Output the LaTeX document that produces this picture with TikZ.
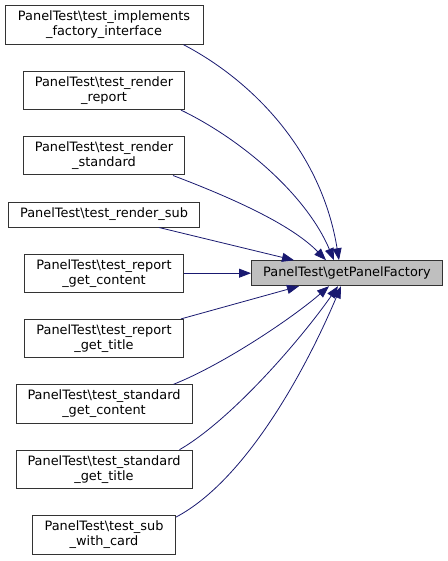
\documentclass[tikz,border=0pt]{standalone}
\usepackage{fontspec}
\setmainfont{DejaVu Sans}
\usepackage{xcolor}
\usepackage{tikz}
\usetikzlibrary{arrows.meta,positioning}
\definecolor{navyline}{HTML}{191970}
\definecolor{frame}{HTML}{333333}
\definecolor{callee}{HTML}{BFBFBF}

\begin{document}
\begin{tikzpicture}[
  x=1pt, y=-1pt,
  font=\fontsize{12.9}{15}\selectfont,
  fn/.style={draw=frame, line width=1pt, inner xsep=3pt, inner ysep=2pt, minimum height=38.4pt, align=center},
  fnone/.style={fn, minimum height=25pt},
  call/.style={draw=navyline, line width=0.8pt, -{Triangle[length=12pt,width=9pt]}},
  node distance=26pt
]
\useasboundingbox (0,0) rectangle (447,561);
\node[fn, minimum width=198pt] (impl) at (104,25) {PanelTest\textbackslash test\_implements\\\_factory\_interface};
\node[fn, minimum width=161pt, below=of impl] (rreport) {PanelTest\textbackslash test\_render\\\_report};
\node[fn, minimum width=161pt, below=of rreport] (rstd) {PanelTest\textbackslash test\_render\\\_standard};
\node[fnone, minimum width=191pt, below=of rstd] (rsub) {PanelTest\textbackslash test\_render\_sub};
\node[fn, minimum width=159pt, below=of rsub] (rcontent) {PanelTest\textbackslash test\_report\\\_get\_content};
\node[fn, minimum width=159pt, below=of rcontent] (rtitle) {PanelTest\textbackslash test\_report\\\_get\_title};
\node[fn, minimum width=176pt, below=of rtitle] (scontent) {PanelTest\textbackslash test\_standard\\\_get\_content};
\node[fn, minimum width=176pt, below=of scontent] (stitle) {PanelTest\textbackslash test\_standard\\\_get\_title};
\node[fn, minimum width=143pt, below=of stitle] (subcard) {PanelTest\textbackslash test\_sub\\\_with\_card};
\node[fnone, fill=callee, minimum width=191pt, right=67pt of rcontent] (pf) {PanelTest\textbackslash getPanelFactory};

\draw[call] ([xshift=-20pt]impl.south east) .. controls +(67,35) and +(-18,-111) .. ([xshift=88pt]pf.north west);
\draw[call] ([xshift=-4pt]rreport.south east) .. controls +(60,29) and +(-28,-66) .. ([xshift=83pt]pf.north west);
\draw[call] ([xshift=-12pt]rstd.south east) .. controls +(58,22) and +(-35,-36) .. ([xshift=75pt]pf.north west);
\draw[call] ([xshift=-41pt]rsub.south east) -- ([xshift=43pt]pf.north west);
\draw[call] (rcontent) -- (pf);
\draw[call] ([xshift=-3pt]rtitle.north east) -- ([xshift=48pt]pf.south west);
\draw[call] ([xshift=-19pt]scontent.north east) .. controls +(48,-19) and +(-38,33) .. ([xshift=78pt]pf.south west);
\draw[call] ([xshift=-13pt]stitle.north east) .. controls +(52,-30) and +(-37,53) .. ([xshift=87pt]pf.south west);
\draw[call] ([yshift=-2pt]subcard.north east) .. controls +(70,-37) and +(-35,83) .. ([xshift=90pt]pf.south west);
\end{tikzpicture}
\end{document}
